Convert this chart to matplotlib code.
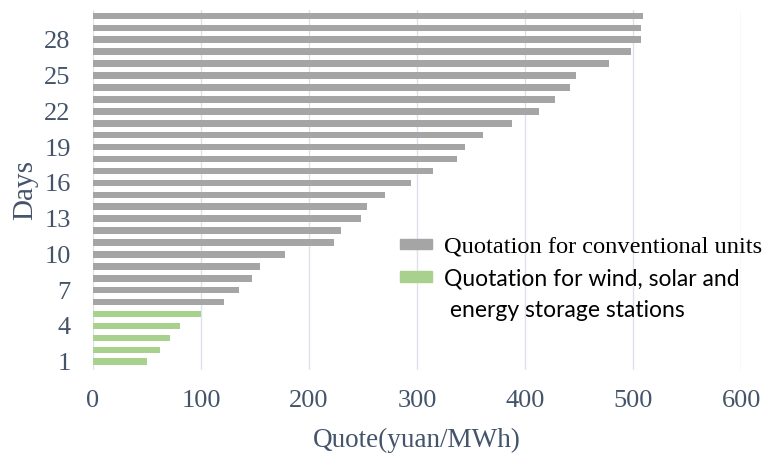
import matplotlib.pyplot as plt
from matplotlib.font_manager import FontProperties
from matplotlib.patches import Patch

# Daily quotes, day 1 .. day 30 (yuan/MWh)
days = list(range(1, 31))
quotes = [50, 62, 71, 81, 100,
          121, 135, 147, 155, 178,
          223, 230, 248, 254, 270,
          294, 315, 337, 344, 361,
          388, 413, 428, 442, 447,
          478, 498, 507, 507, 509]
n_renewable = 5  # first days are wind/solar/storage stations

label_conv = 'Quotation for conventional units'
label_ren = ['Quotation for wind, solar and', ' energy storage stations']
y_ticks = [1, 4, 7, 10, 13, 16, 19, 22, 25, 28]
x_ticks = [0, 100, 200, 300, 400, 500, 600]

gray = '#a5a5a5'
green = '#a9d18e'
text_color = '#44546a'

fig = plt.figure(figsize=(7.68, 4.53), dpi=100)
ax = fig.add_axes([0.121, 0.183, 0.844, 0.795])

ax.barh(days[n_renewable:], quotes[n_renewable:], height=0.55, color=gray, zorder=2)
ax.barh(days[:n_renewable], quotes[:n_renewable], height=0.55, color=green, zorder=2)

ax.set_xlim(0, 600)
ax.set_ylim(0.3, 30.5)
ax.set_xticks(x_ticks)
ax.set_yticks(y_ticks)
ax.grid(axis='x', color='#dde1ea', linewidth=1, zorder=0)
ax.tick_params(length=0, labelcolor=text_color, labelsize=19)
ax.tick_params(axis='x', pad=14)
ax.tick_params(axis='y', pad=16)
for lbl in ax.get_xticklabels() + ax.get_yticklabels():
    lbl.set_fontfamily('Liberation Serif')
for s in ax.spines.values():
    s.set_visible(False)

ax.set_xlabel('Quote(yuan/MWh)', family='Liberation Serif', fontsize=19.5,
              color=text_color, labelpad=12)
ax.set_ylabel('Days', family='Liberation Serif', fontsize=21,
              color=text_color, labelpad=4)

# legend: second label wraps onto a handle-less row
handles = [Patch(color=gray), Patch(color=green), Patch(color='none')]
labels = [label_conv] + label_ren
leg = fig.legend(handles, labels, loc='upper left',
                 bbox_to_anchor=(0.521, 0.478), frameon=False,
                 borderpad=0, borderaxespad=0,
                 handlelength=1.35, handleheight=0.3, handletextpad=0.5,
                 labelspacing=0.45, fontsize=17)
serif = FontProperties(family='Liberation Serif', size=17.6)
sans = FontProperties(family='Lato', size=16.5)
for t, fp in zip(leg.get_texts(), [serif, sans, sans]):
    t.set_fontproperties(fp)

fig.savefig('out.png', dpi=100)
